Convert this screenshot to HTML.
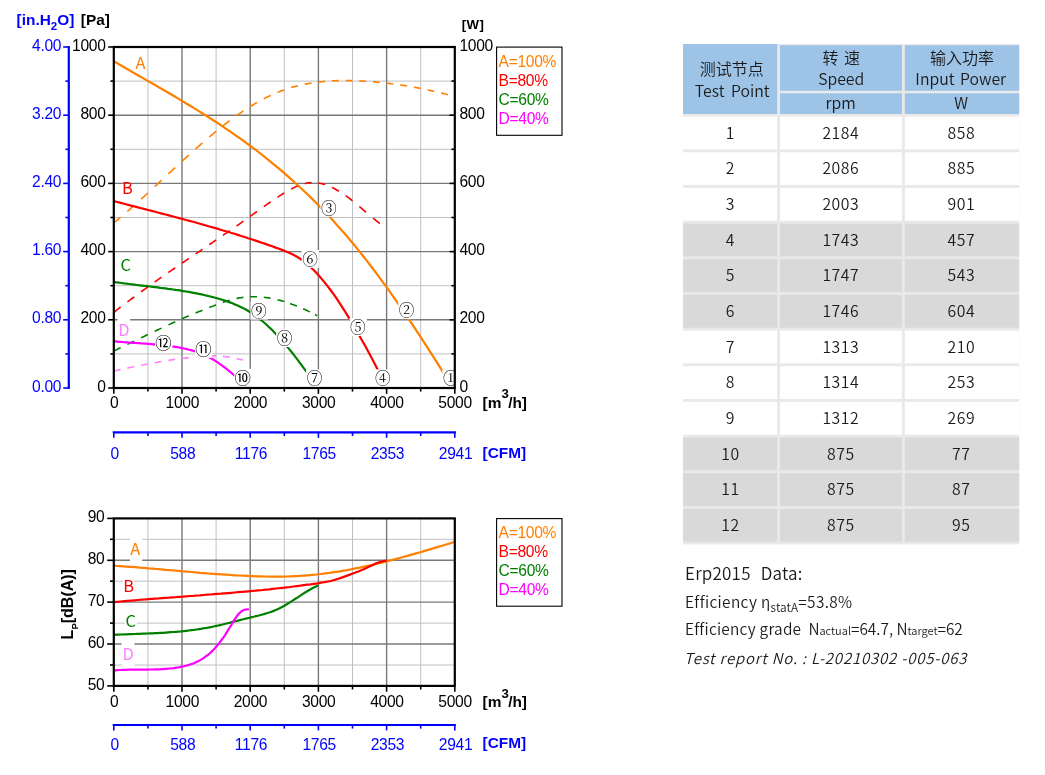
<!DOCTYPE html>
<html lang="zh"><head><meta charset="utf-8"><title>Fan curve</title>
<style>
html,body{margin:0;padding:0;background:#fff}
svg{display:block}
text{font-family:"Liberation Sans",sans-serif}
.t{font-size:15.6px;letter-spacing:-0.3px}
.b{font-size:15.4px;font-weight:bold}
.e{text-anchor:end}
.m{text-anchor:middle}
.lt{font-family:"Noto Sans CJK SC","Liberation Sans",sans-serif;font-size:16.4px;font-weight:400}
.cn{font-family:"Liberation Serif","Noto Serif CJK SC",serif;font-size:15.7px;text-anchor:middle}
.cs{font-family:"Liberation Sans","Noto Sans CJK SC",sans-serif;font-weight:400;font-size:16.4px;text-anchor:middle}
.c{font-family:"Noto Sans CJK SC","Liberation Sans",sans-serif;font-size:15.8px;font-weight:350;letter-spacing:0.5px;fill:#1a1a1a}
.h{letter-spacing:0}
</style></head><body>
<svg width="1045" height="775" viewBox="0 0 1045 775">
<rect width="1045" height="775" fill="#fff"/>
<line x1="147.9" x2="147.9" y1="47.0" y2="388.0" stroke="#C0C0C0" stroke-width="1"/>
<line x1="216.1" x2="216.1" y1="47.0" y2="388.0" stroke="#C0C0C0" stroke-width="1"/>
<line x1="284.3" x2="284.3" y1="47.0" y2="388.0" stroke="#C0C0C0" stroke-width="1"/>
<line x1="352.5" x2="352.5" y1="47.0" y2="388.0" stroke="#C0C0C0" stroke-width="1"/>
<line x1="420.7" x2="420.7" y1="47.0" y2="388.0" stroke="#C0C0C0" stroke-width="1"/>
<line x1="113.8" x2="454.8" y1="353.9" y2="353.9" stroke="#C0C0C0" stroke-width="1"/>
<line x1="113.8" x2="454.8" y1="285.7" y2="285.7" stroke="#C0C0C0" stroke-width="1"/>
<line x1="113.8" x2="454.8" y1="217.5" y2="217.5" stroke="#C0C0C0" stroke-width="1"/>
<line x1="113.8" x2="454.8" y1="149.3" y2="149.3" stroke="#C0C0C0" stroke-width="1"/>
<line x1="113.8" x2="454.8" y1="81.1" y2="81.1" stroke="#C0C0C0" stroke-width="1"/>
<line x1="182.0" x2="182.0" y1="47.0" y2="388.0" stroke="#787878" stroke-width="1.4"/>
<line x1="250.2" x2="250.2" y1="47.0" y2="388.0" stroke="#787878" stroke-width="1.4"/>
<line x1="318.4" x2="318.4" y1="47.0" y2="388.0" stroke="#787878" stroke-width="1.4"/>
<line x1="386.6" x2="386.6" y1="47.0" y2="388.0" stroke="#787878" stroke-width="1.4"/>
<line x1="113.8" x2="454.8" y1="319.8" y2="319.8" stroke="#787878" stroke-width="1.4"/>
<line x1="113.8" x2="454.8" y1="251.6" y2="251.6" stroke="#787878" stroke-width="1.4"/>
<line x1="113.8" x2="454.8" y1="183.4" y2="183.4" stroke="#787878" stroke-width="1.4"/>
<line x1="113.8" x2="454.8" y1="115.2" y2="115.2" stroke="#787878" stroke-width="1.4"/>
<rect x="133.0" y="55.0" width="13.4" height="16.0" fill="#fff"/>
<rect x="121.0" y="184.6" width="13.0" height="11.0" fill="#fff"/>
<rect x="119.0" y="259.0" width="13.0" height="14.0" fill="#fff"/>
<rect x="117.6" y="317.0" width="12.6" height="20.0" fill="#fff"/>
<path d="M113.8 223.0 L115.5 221.5 L117.2 220.1 L118.9 218.7 L120.6 217.2 M127.4 211.4 L129.1 209.9 L130.8 208.4 L132.6 206.9 L134.3 205.3 M141.1 199.2 L142.8 197.6 L144.5 196.1 L146.2 194.5 L147.9 192.9 M154.7 186.6 L156.4 185.1 L158.1 183.5 L159.8 181.9 L161.5 180.3 M168.4 173.9 L170.1 172.3 L171.8 170.8 L173.5 169.2 L175.2 167.6 M182.0 161.3 L183.7 159.7 L185.4 158.2 L187.1 156.6 L188.8 155.0 M195.6 148.9 L197.3 147.4 L199.1 145.9 L200.8 144.4 L202.5 142.9 M209.3 137.0 L211.0 135.6 L212.7 134.2 L214.4 132.7 L216.1 131.3 M222.9 125.9 L224.6 124.5 L226.3 123.2 L228.0 121.9 L229.7 120.6 M236.6 115.6 L238.3 114.4 L240.0 113.2 L241.7 112.1 L243.4 110.9 M250.2 106.5 L251.9 105.5 L253.6 104.5 L255.3 103.4 L257.0 102.5 M263.8 98.8 L265.5 97.9 L267.2 97.0 L269.0 96.2 L270.7 95.4 M277.5 92.4 L279.2 91.8 L280.9 91.1 L282.6 90.5 L284.3 89.8 M291.1 87.6 L292.8 87.1 L294.5 86.6 L296.2 86.2 L297.9 85.8 M304.8 84.2 L306.5 83.9 L308.2 83.6 L309.9 83.3 L311.6 83.0 M318.4 82.0 L320.1 81.9 L321.8 81.7 L323.5 81.5 L325.2 81.3 M332.0 80.9 L333.7 80.8 L335.4 80.7 L337.2 80.6 L338.9 80.6 M345.7 80.5 L347.4 80.5 L349.1 80.6 L350.8 80.6 L352.5 80.6 M359.3 80.9 L361.0 81.0 L362.7 81.1 L364.4 81.2 L366.1 81.3 M373.0 81.8 L374.7 81.9 L376.4 82.1 L378.1 82.3 L379.8 82.4 M386.6 83.2 L388.3 83.3 L390.0 83.6 L391.7 83.8 L393.4 84.0 M400.2 84.9 L401.9 85.2 L403.7 85.4 L405.4 85.7 L407.1 86.0 M413.9 87.2 L415.6 87.5 L417.3 87.8 L419.0 88.1 L420.7 88.4 M427.5 89.8 L429.2 90.2 L430.9 90.6 L432.6 91.0 L434.3 91.4 M441.2 93.0 L442.9 93.4 L444.6 93.8 L446.3 94.3 L448.0 94.7" fill="none" stroke="#FF8000" stroke-width="1.6"/>
<path d="M113.8 312.3 L115.5 311.0 L117.2 309.6 L118.9 308.3 L120.6 307.0 M127.4 301.8 L129.1 300.6 L130.8 299.3 L132.6 298.0 L134.3 296.8 M141.1 291.8 L142.8 290.5 L144.5 289.3 L146.2 288.1 L147.9 286.9 M154.7 282.0 L156.4 280.8 L158.1 279.6 L159.8 278.4 L161.5 277.2 M168.4 272.5 L170.1 271.3 L171.8 270.2 L173.5 269.0 L175.2 267.8 M182.0 263.2 L183.7 262.0 L185.4 260.8 L187.1 259.7 L188.8 258.5 M195.6 253.9 L197.3 252.8 L199.1 251.6 L200.8 250.5 L202.5 249.3 M209.3 244.7 L211.0 243.5 L212.7 242.4 L214.4 241.2 L216.1 240.0 M222.9 235.4 L224.6 234.2 L226.3 233.1 L228.0 231.9 L229.7 230.7 M236.6 226.0 L238.3 224.8 L240.0 223.6 L241.7 222.4 L243.4 221.2 M250.2 216.4 L251.9 215.1 L253.6 213.9 L255.3 212.7 L257.0 211.5 M263.8 206.6 L265.5 205.4 L267.2 204.2 L269.0 203.0 L270.7 201.8 M277.5 197.3 L279.2 196.2 L280.9 195.1 L282.6 194.0 L284.3 193.0 M291.1 189.1 L292.8 188.2 L294.5 187.4 L296.2 186.6 L297.9 185.9 M304.8 183.6 L306.5 183.2 L308.2 182.9 L309.9 182.7 L311.6 182.6 M318.4 183.0 L320.1 183.3 L321.8 183.7 L323.5 184.1 L325.2 184.6 M332.0 187.4 L333.7 188.3 L335.4 189.2 L337.2 190.2 L338.9 191.2 M345.7 195.7 L347.4 196.9 L349.1 198.2 L350.8 199.5 L352.5 200.9 M359.3 206.5 L361.0 207.9 L362.7 209.4 L364.4 210.8 L366.1 212.3 M373.0 218.0 L374.7 219.4 L376.4 220.8 L378.1 222.2 L379.8 223.5" fill="none" stroke="#FF0000" stroke-width="1.6"/>
<path d="M113.8 351.0 L115.5 350.2 L117.2 349.4 L118.9 348.5 L120.6 347.7 M127.4 344.4 L129.1 343.6 L130.8 342.8 L132.6 341.9 L134.3 341.1 M141.1 337.8 L142.8 337.0 L144.5 336.2 L146.2 335.3 L147.9 334.5 M154.7 331.3 L156.4 330.5 L158.1 329.7 L159.8 328.9 L161.5 328.1 M168.4 324.9 L170.1 324.1 L171.8 323.3 L173.5 322.6 L175.2 321.8 M182.0 318.8 L183.7 318.0 L185.4 317.3 L187.1 316.6 L188.8 315.8 M195.6 313.0 L197.3 312.3 L199.1 311.6 L200.8 310.9 L202.5 310.2 M209.3 307.5 L211.0 306.8 L212.7 306.2 L214.4 305.5 L216.1 304.9 M222.9 302.4 L224.6 301.8 L226.3 301.2 L228.0 300.7 L229.7 300.2 M236.6 298.4 L238.3 298.1 L240.0 297.8 L241.7 297.6 L243.4 297.3 M250.2 296.8 L251.9 296.7 L253.6 296.7 L255.3 296.7 L257.0 296.8 M263.8 297.3 L265.5 297.5 L267.2 297.7 L269.0 298.0 L270.7 298.3 M277.5 299.8 L279.2 300.2 L280.9 300.6 L282.6 301.1 L284.3 301.6 M290.1 303.5 L291.8 304.2 L293.5 304.8 L295.2 305.4 L296.9 306.1 M303.1 308.7 L304.8 309.5 L306.5 310.3 L308.2 311.1 L309.9 311.9 M315.0 314.5 L315.6 314.8 L316.1 315.1 L316.7 315.4 L317.2 315.7" fill="none" stroke="#008000" stroke-width="1.6"/>
<path d="M113.8 371.1 L115.5 370.7 L117.2 370.3 L118.9 369.9 L120.6 369.5 M127.4 368.1 L129.1 367.7 L130.8 367.3 L132.6 367.0 L134.3 366.6 M141.1 365.3 L142.8 365.0 L144.5 364.7 L146.2 364.3 L147.9 364.0 M154.7 362.8 L156.4 362.5 L158.1 362.1 L159.8 361.8 L161.5 361.5 M168.4 360.4 L170.1 360.1 L171.8 359.8 L173.5 359.6 L175.2 359.3 M182.0 358.5 L183.7 358.3 L185.4 358.1 L187.1 357.9 L188.8 357.7 M195.6 357.0 L197.3 356.8 L199.1 356.7 L200.8 356.5 L202.5 356.4 M209.3 356.0 L211.0 355.9 L212.7 355.9 L214.4 355.8 L216.1 355.9 M222.9 356.3 L224.6 356.5 L226.3 356.7 L228.0 356.9 L229.7 357.2 M236.6 358.5 L238.1 358.9 L239.7 359.3 L241.3 359.6 L242.9 360.0" fill="none" stroke="#FF80FF" stroke-width="1.6"/>
<path d="M113.8 61.3 L118.1 63.8 L122.4 66.3 L126.7 68.8 L131.0 71.2 L135.3 73.7 L139.5 76.2 L143.8 78.6 L148.1 81.1 L152.4 83.5 L156.7 86.0 L161.0 88.5 L165.3 91.0 L169.6 93.5 L173.9 96.0 L178.2 98.6 L182.4 101.1 L186.7 103.7 L191.0 106.3 L195.3 108.9 L199.6 111.6 L203.9 114.3 L208.2 117.0 L212.5 119.7 L216.8 122.5 L221.1 125.4 L225.4 128.3 L229.6 131.2 L233.9 134.1 L238.2 137.2 L242.5 140.2 L246.8 143.3 L251.1 146.5 L255.4 149.7 L259.7 153.0 L264.0 156.4 L268.3 159.8 L272.6 163.3 L276.8 166.8 L281.1 170.4 L285.4 174.1 L289.7 177.9 L294.0 181.7 L298.3 185.7 L302.6 189.7 L306.9 193.7 L311.2 197.9 L315.5 202.2 L319.7 206.5 L324.0 211.0 L328.3 215.5 L332.6 220.1 L336.9 224.9 L341.2 229.7 L345.5 234.6 L349.8 239.7 L354.1 244.8 L358.4 250.1 L362.7 255.5 L366.9 260.9 L371.2 266.5 L375.5 272.2 L379.8 277.9 L384.1 283.8 L388.4 289.7 L392.7 295.8 L397.0 301.9 L401.3 308.1 L405.6 314.4 L409.8 320.7 L414.1 327.1 L418.4 333.7 L422.7 340.2 L427.0 346.9 L431.3 353.6 L435.6 360.4 L439.9 367.2 L444.2 374.1 L448.5 381.0 L452.8 388.0" fill="none" stroke="#FF8000" stroke-width="2.2" stroke-linejoin="round"/>
<path d="M113.8 201.1 L117.2 202.0 L120.7 202.9 L124.1 203.8 L127.6 204.7 L131.0 205.6 L134.5 206.5 L137.9 207.4 L141.4 208.3 L144.8 209.1 L148.2 210.0 L151.7 210.9 L155.1 211.8 L158.6 212.7 L162.0 213.6 L165.5 214.5 L168.9 215.4 L172.4 216.3 L175.8 217.2 L179.2 218.1 L182.7 219.0 L186.1 220.0 L189.6 220.9 L193.0 221.8 L196.5 222.8 L199.9 223.7 L203.4 224.7 L206.8 225.7 L210.2 226.7 L213.7 227.6 L217.1 228.6 L220.6 229.7 L224.0 230.7 L227.5 231.7 L230.9 232.8 L234.4 233.8 L237.8 234.9 L241.2 236.0 L244.7 237.0 L248.1 238.2 L251.6 239.3 L255.0 240.4 L258.5 241.6 L261.9 242.7 L265.4 243.9 L268.8 245.1 L272.2 246.3 L275.7 247.6 L279.1 248.8 L282.6 250.1 L286.0 251.5 L289.5 252.9 L292.9 254.6 L296.4 256.4 L299.8 258.5 L303.2 260.9 L306.7 263.7 L310.1 266.7 L313.6 270.0 L317.0 273.6 L320.5 277.5 L323.9 281.6 L327.4 285.9 L330.8 290.5 L334.3 295.2 L337.7 300.2 L341.1 305.4 L344.6 310.8 L348.0 316.4 L351.5 322.1 L354.9 328.0 L358.4 334.0 L361.8 340.0 L365.3 346.1 L368.7 352.4 L372.1 358.8 L375.6 365.5 L379.0 372.5 L382.5 380.0 L385.9 388.0" fill="none" stroke="#FF0000" stroke-width="2.2" stroke-linejoin="round"/>
<path d="M113.8 282.0 L116.4 282.3 L119.0 282.7 L121.5 283.0 L124.1 283.4 L126.7 283.7 L129.3 284.0 L131.9 284.3 L134.4 284.7 L137.0 285.0 L139.6 285.3 L142.2 285.6 L144.8 285.9 L147.3 286.2 L149.9 286.5 L152.5 286.8 L155.1 287.1 L157.7 287.4 L160.2 287.8 L162.8 288.1 L165.4 288.4 L168.0 288.8 L170.5 289.1 L173.1 289.5 L175.7 289.9 L178.3 290.2 L180.9 290.6 L183.4 291.1 L186.0 291.5 L188.6 291.9 L191.2 292.4 L193.8 292.9 L196.3 293.4 L198.9 293.9 L201.5 294.4 L204.1 295.0 L206.7 295.6 L209.2 296.2 L211.8 296.9 L214.4 297.5 L217.0 298.2 L219.6 299.0 L222.1 299.8 L224.7 300.6 L227.3 301.5 L229.9 302.4 L232.5 303.3 L235.0 304.4 L237.6 305.5 L240.2 306.7 L242.8 307.9 L245.4 309.3 L247.9 310.7 L250.5 312.3 L253.1 314.0 L255.7 315.9 L258.3 317.8 L260.8 319.8 L263.4 322.0 L266.0 324.3 L268.6 326.7 L271.2 329.1 L273.7 331.7 L276.3 334.4 L278.9 337.2 L281.5 340.0 L284.0 343.0 L286.6 346.0 L289.2 349.1 L291.8 352.3 L294.4 355.6 L296.9 358.9 L299.5 362.3 L302.1 365.8 L304.7 369.3 L307.3 372.9 L309.8 376.6 L312.4 380.3 L315.0 384.1 L317.6 388.0" fill="none" stroke="#008000" stroke-width="2.2" stroke-linejoin="round"/>
<path d="M113.8 341.3 L115.5 341.4 L117.2 341.6 L118.9 341.8 L120.7 341.9 L122.4 342.0 L124.1 342.2 L125.8 342.3 L127.5 342.4 L129.2 342.6 L130.9 342.7 L132.6 342.8 L134.4 342.9 L136.1 343.0 L137.8 343.1 L139.5 343.2 L141.2 343.4 L142.9 343.5 L144.6 343.6 L146.4 343.7 L148.1 343.8 L149.8 344.0 L151.5 344.1 L153.2 344.3 L154.9 344.4 L156.6 344.6 L158.4 344.7 L160.1 344.9 L161.8 345.1 L163.5 345.3 L165.2 345.5 L166.9 345.7 L168.6 345.9 L170.3 346.1 L172.1 346.4 L173.8 346.6 L175.5 346.9 L177.2 347.2 L178.9 347.5 L180.6 347.8 L182.3 348.1 L184.1 348.5 L185.8 348.9 L187.5 349.3 L189.2 349.7 L190.9 350.1 L192.6 350.6 L194.3 351.1 L196.1 351.7 L197.8 352.2 L199.5 352.9 L201.2 353.5 L202.9 354.2 L204.6 355.0 L206.3 355.8 L208.0 356.6 L209.8 357.6 L211.5 358.5 L213.2 359.5 L214.9 360.6 L216.6 361.7 L218.3 362.9 L220.0 364.1 L221.8 365.3 L223.5 366.6 L225.2 367.9 L226.9 369.2 L228.6 370.6 L230.3 372.0 L232.0 373.4 L233.8 374.8 L235.5 376.2 L237.2 377.7 L238.9 379.2 L240.6 380.6 L242.3 382.1 L244.0 383.6 L245.7 385.1 L247.5 386.5 L249.2 388.0" fill="none" stroke="#FF00FF" stroke-width="2.2" stroke-linejoin="round"/>
<text x="135.5" y="68.6" fill="#FF8000" class="lt">A</text>
<text x="122.0" y="193.8" fill="#FF0000" class="lt">B</text>
<text x="120.6" y="271.0" fill="#008000" class="lt">C</text>
<text x="118.3" y="336.2" fill="#FF80FF" class="lt">D</text>
<clipPath id="cu"><rect x="113.8" y="47.0" width="341.0" height="341.0"/></clipPath>
<g clip-path="url(#cu)">
<rect x="442.4" y="369.4" width="17.3" height="18" fill="#fff"/>
<text x="450.8" y="384.4" class="cn">①</text>
<rect x="398.3" y="301.1" width="17.3" height="18" fill="#fff"/>
<text x="406.7" y="316.1" class="cn">②</text>
<rect x="320.4" y="198.9" width="17.3" height="18" fill="#fff"/>
<text x="328.8" y="213.9" class="cn">③</text>
<rect x="374.4" y="369.4" width="17.3" height="18" fill="#fff"/>
<text x="382.8" y="384.4" class="cn">④</text>
<rect x="349.5" y="318.0" width="17.3" height="18" fill="#fff"/>
<text x="357.9" y="333.0" class="cn">⑤</text>
<rect x="301.6" y="249.9" width="17.3" height="18" fill="#fff"/>
<text x="310.0" y="264.9" class="cn">⑥</text>
<rect x="306.1" y="369.4" width="17.3" height="18" fill="#fff"/>
<text x="314.5" y="384.4" class="cn">⑦</text>
<rect x="276.2" y="329.0" width="17.3" height="18" fill="#fff"/>
<text x="284.6" y="344.0" class="cn">⑧</text>
<rect x="250.5" y="301.6" width="17.3" height="18" fill="#fff"/>
<text x="258.9" y="316.6" class="cn">⑨</text>
<rect x="234.2" y="368.9" width="17.3" height="18" fill="#fff"/>
<text x="242.6" y="384.0" class="cs">⑩</text>
<rect x="195.0" y="339.8" width="17.3" height="18" fill="#fff"/>
<text x="203.4" y="354.9" class="cs">⑪</text>
<rect x="155.0" y="334.2" width="17.3" height="18" fill="#fff"/>
<text x="163.4" y="349.3" class="cs">⑫</text>
</g>
<rect x="113.8" y="47.0" width="341.0" height="341.0" fill="none" stroke="#000" stroke-width="2.2"/>
<line x1="108.2" x2="113.8" y1="388.0" y2="388.0" stroke="#000" stroke-width="1.6"/>
<line x1="449.6" x2="454.8" y1="388.0" y2="388.0" stroke="#000" stroke-width="1.6"/>
<line x1="63.2" x2="68.8" y1="388.0" y2="388.0" stroke="#0000FF" stroke-width="1.6"/>
<line x1="110.4" x2="113.8" y1="353.9" y2="353.9" stroke="#000" stroke-width="1.6"/>
<line x1="451.4" x2="454.8" y1="353.9" y2="353.9" stroke="#000" stroke-width="1.6"/>
<line x1="65.4" x2="68.8" y1="353.9" y2="353.9" stroke="#0000FF" stroke-width="1.6"/>
<line x1="108.2" x2="113.8" y1="319.8" y2="319.8" stroke="#000" stroke-width="1.6"/>
<line x1="449.6" x2="454.8" y1="319.8" y2="319.8" stroke="#000" stroke-width="1.6"/>
<line x1="63.2" x2="68.8" y1="319.8" y2="319.8" stroke="#0000FF" stroke-width="1.6"/>
<line x1="110.4" x2="113.8" y1="285.7" y2="285.7" stroke="#000" stroke-width="1.6"/>
<line x1="451.4" x2="454.8" y1="285.7" y2="285.7" stroke="#000" stroke-width="1.6"/>
<line x1="65.4" x2="68.8" y1="285.7" y2="285.7" stroke="#0000FF" stroke-width="1.6"/>
<line x1="108.2" x2="113.8" y1="251.6" y2="251.6" stroke="#000" stroke-width="1.6"/>
<line x1="449.6" x2="454.8" y1="251.6" y2="251.6" stroke="#000" stroke-width="1.6"/>
<line x1="63.2" x2="68.8" y1="251.6" y2="251.6" stroke="#0000FF" stroke-width="1.6"/>
<line x1="110.4" x2="113.8" y1="217.5" y2="217.5" stroke="#000" stroke-width="1.6"/>
<line x1="451.4" x2="454.8" y1="217.5" y2="217.5" stroke="#000" stroke-width="1.6"/>
<line x1="65.4" x2="68.8" y1="217.5" y2="217.5" stroke="#0000FF" stroke-width="1.6"/>
<line x1="108.2" x2="113.8" y1="183.4" y2="183.4" stroke="#000" stroke-width="1.6"/>
<line x1="449.6" x2="454.8" y1="183.4" y2="183.4" stroke="#000" stroke-width="1.6"/>
<line x1="63.2" x2="68.8" y1="183.4" y2="183.4" stroke="#0000FF" stroke-width="1.6"/>
<line x1="110.4" x2="113.8" y1="149.3" y2="149.3" stroke="#000" stroke-width="1.6"/>
<line x1="451.4" x2="454.8" y1="149.3" y2="149.3" stroke="#000" stroke-width="1.6"/>
<line x1="65.4" x2="68.8" y1="149.3" y2="149.3" stroke="#0000FF" stroke-width="1.6"/>
<line x1="108.2" x2="113.8" y1="115.2" y2="115.2" stroke="#000" stroke-width="1.6"/>
<line x1="449.6" x2="454.8" y1="115.2" y2="115.2" stroke="#000" stroke-width="1.6"/>
<line x1="63.2" x2="68.8" y1="115.2" y2="115.2" stroke="#0000FF" stroke-width="1.6"/>
<line x1="110.4" x2="113.8" y1="81.1" y2="81.1" stroke="#000" stroke-width="1.6"/>
<line x1="451.4" x2="454.8" y1="81.1" y2="81.1" stroke="#000" stroke-width="1.6"/>
<line x1="65.4" x2="68.8" y1="81.1" y2="81.1" stroke="#0000FF" stroke-width="1.6"/>
<line x1="108.2" x2="113.8" y1="47.0" y2="47.0" stroke="#000" stroke-width="1.6"/>
<line x1="449.6" x2="454.8" y1="47.0" y2="47.0" stroke="#000" stroke-width="1.6"/>
<line x1="63.2" x2="68.8" y1="47.0" y2="47.0" stroke="#0000FF" stroke-width="1.6"/>
<line x1="68.8" x2="68.8" y1="45.9" y2="389.1" stroke="#0000FF" stroke-width="2.2"/>
<line x1="113.8" x2="113.8" y1="388.0" y2="393.8" stroke="#000" stroke-width="1.6"/>
<line x1="147.9" x2="147.9" y1="388.0" y2="391.6" stroke="#000" stroke-width="1.6"/>
<line x1="182.0" x2="182.0" y1="388.0" y2="393.8" stroke="#000" stroke-width="1.6"/>
<line x1="216.1" x2="216.1" y1="388.0" y2="391.6" stroke="#000" stroke-width="1.6"/>
<line x1="250.2" x2="250.2" y1="388.0" y2="393.8" stroke="#000" stroke-width="1.6"/>
<line x1="284.3" x2="284.3" y1="388.0" y2="391.6" stroke="#000" stroke-width="1.6"/>
<line x1="318.4" x2="318.4" y1="388.0" y2="393.8" stroke="#000" stroke-width="1.6"/>
<line x1="352.5" x2="352.5" y1="388.0" y2="391.6" stroke="#000" stroke-width="1.6"/>
<line x1="386.6" x2="386.6" y1="388.0" y2="393.8" stroke="#000" stroke-width="1.6"/>
<line x1="420.7" x2="420.7" y1="388.0" y2="391.6" stroke="#000" stroke-width="1.6"/>
<line x1="454.8" x2="454.8" y1="388.0" y2="393.8" stroke="#000" stroke-width="1.6"/>
<line x1="112.7" x2="455.9" y1="432.4" y2="432.4" stroke="#0000FF" stroke-width="2.2"/>
<line x1="113.8" x2="113.8" y1="432.4" y2="437.8" stroke="#0000FF" stroke-width="1.6"/>
<line x1="147.9" x2="147.9" y1="432.4" y2="436.0" stroke="#0000FF" stroke-width="1.6"/>
<line x1="182.0" x2="182.0" y1="432.4" y2="437.8" stroke="#0000FF" stroke-width="1.6"/>
<line x1="216.1" x2="216.1" y1="432.4" y2="436.0" stroke="#0000FF" stroke-width="1.6"/>
<line x1="250.2" x2="250.2" y1="432.4" y2="437.8" stroke="#0000FF" stroke-width="1.6"/>
<line x1="284.3" x2="284.3" y1="432.4" y2="436.0" stroke="#0000FF" stroke-width="1.6"/>
<line x1="318.4" x2="318.4" y1="432.4" y2="437.8" stroke="#0000FF" stroke-width="1.6"/>
<line x1="352.5" x2="352.5" y1="432.4" y2="436.0" stroke="#0000FF" stroke-width="1.6"/>
<line x1="386.6" x2="386.6" y1="432.4" y2="437.8" stroke="#0000FF" stroke-width="1.6"/>
<line x1="420.7" x2="420.7" y1="432.4" y2="436.0" stroke="#0000FF" stroke-width="1.6"/>
<line x1="454.8" x2="454.8" y1="432.4" y2="437.8" stroke="#0000FF" stroke-width="1.6"/>
<text x="105.6" y="391.5" class="t e">0</text>
<text x="459.4" y="391.5" class="t">0</text>
<text x="61.2" y="391.5" class="t e" fill="#0000FF">0.00</text>
<text x="105.6" y="323.3" class="t e">200</text>
<text x="459.4" y="323.3" class="t">200</text>
<text x="61.2" y="323.3" class="t e" fill="#0000FF">0.80</text>
<text x="105.6" y="255.1" class="t e">400</text>
<text x="459.4" y="255.1" class="t">400</text>
<text x="61.2" y="255.1" class="t e" fill="#0000FF">1.60</text>
<text x="105.6" y="186.9" class="t e">600</text>
<text x="459.4" y="186.9" class="t">600</text>
<text x="61.2" y="186.9" class="t e" fill="#0000FF">2.40</text>
<text x="105.6" y="118.7" class="t e">800</text>
<text x="459.4" y="118.7" class="t">800</text>
<text x="61.2" y="118.7" class="t e" fill="#0000FF">3.20</text>
<text x="105.6" y="50.5" class="t e">1000</text>
<text x="459.4" y="50.5" class="t">1000</text>
<text x="61.2" y="50.5" class="t e" fill="#0000FF">4.00</text>
<text x="114.1" y="407.6" class="t m">0</text>
<text x="114.6" y="459.2" class="t m" fill="#0000FF">0</text>
<text x="114.1" y="707.2" class="t m">0</text>
<text x="114.6" y="749.6" class="t m" fill="#0000FF">0</text>
<text x="182.3" y="407.6" class="t m">1000</text>
<text x="182.8" y="459.2" class="t m" fill="#0000FF">588</text>
<text x="182.3" y="707.2" class="t m">1000</text>
<text x="182.8" y="749.6" class="t m" fill="#0000FF">588</text>
<text x="250.5" y="407.6" class="t m">2000</text>
<text x="251.0" y="459.2" class="t m" fill="#0000FF">1176</text>
<text x="250.5" y="707.2" class="t m">2000</text>
<text x="251.0" y="749.6" class="t m" fill="#0000FF">1176</text>
<text x="318.7" y="407.6" class="t m">3000</text>
<text x="319.2" y="459.2" class="t m" fill="#0000FF">1765</text>
<text x="318.7" y="707.2" class="t m">3000</text>
<text x="319.2" y="749.6" class="t m" fill="#0000FF">1765</text>
<text x="386.9" y="407.6" class="t m">4000</text>
<text x="387.4" y="459.2" class="t m" fill="#0000FF">2353</text>
<text x="386.9" y="707.2" class="t m">4000</text>
<text x="387.4" y="749.6" class="t m" fill="#0000FF">2353</text>
<text x="455.1" y="407.6" class="t m">5000</text>
<text x="455.6" y="459.2" class="t m" fill="#0000FF">2941</text>
<text x="455.1" y="707.2" class="t m">5000</text>
<text x="455.6" y="749.6" class="t m" fill="#0000FF">2941</text>
<text x="16.6" y="24.8" class="b" fill="#0000FF">[in.H<tspan dy="5.4" style="font-size:11.5px">2</tspan><tspan dy="-5.4">O]</tspan></text>
<text x="80.8" y="24.8" class="b">[Pa]</text>
<text x="461.8" y="28.8" class="b" style="font-size:13.2px;letter-spacing:0.4px">[W]</text>
<text x="482.6" y="407.6" class="b">[m<tspan dy="-9.4" style="font-size:13.2px">3</tspan><tspan dy="9.4" dx="-0.6">/h]</tspan></text>
<text x="482.6" y="457.6" class="b" fill="#0000FF">[CFM]</text>
<text x="482.6" y="707.2" class="b">[m<tspan dy="-9.4" style="font-size:13.2px">3</tspan><tspan dy="9.4" dx="-0.6">/h]</tspan></text>
<text x="482.6" y="748.4" class="b" fill="#0000FF">[CFM]</text>
<rect x="496.6" y="47.1" width="65.4" height="88.2" fill="#fff" stroke="#000" stroke-width="1.1"/>
<text x="498.6" y="66.7" class="t" fill="#FF8000">A=100%</text>
<text x="498.6" y="85.7" class="t" fill="#FF0000">B=80%</text>
<text x="498.6" y="104.7" class="t" fill="#008000">C=60%</text>
<text x="498.6" y="123.7" class="t" fill="#FF00FF">D=40%</text>
<rect x="496.6" y="518.6" width="65.4" height="87.6" fill="#fff" stroke="#000" stroke-width="1.1"/>
<text x="498.6" y="537.5" class="t" fill="#FF8000">A=100%</text>
<text x="498.6" y="556.5" class="t" fill="#FF0000">B=80%</text>
<text x="498.6" y="575.5" class="t" fill="#008000">C=60%</text>
<text x="498.6" y="594.5" class="t" fill="#FF00FF">D=40%</text>
<line x1="147.9" x2="147.9" y1="518.4" y2="685.9" stroke="#C0C0C0" stroke-width="1"/>
<line x1="216.1" x2="216.1" y1="518.4" y2="685.9" stroke="#C0C0C0" stroke-width="1"/>
<line x1="284.3" x2="284.3" y1="518.4" y2="685.9" stroke="#C0C0C0" stroke-width="1"/>
<line x1="352.5" x2="352.5" y1="518.4" y2="685.9" stroke="#C0C0C0" stroke-width="1"/>
<line x1="420.7" x2="420.7" y1="518.4" y2="685.9" stroke="#C0C0C0" stroke-width="1"/>
<line x1="113.8" x2="454.8" y1="665.0" y2="665.0" stroke="#C0C0C0" stroke-width="1"/>
<line x1="113.8" x2="454.8" y1="623.1" y2="623.1" stroke="#C0C0C0" stroke-width="1"/>
<line x1="113.8" x2="454.8" y1="581.2" y2="581.2" stroke="#C0C0C0" stroke-width="1"/>
<line x1="113.8" x2="454.8" y1="539.3" y2="539.3" stroke="#C0C0C0" stroke-width="1"/>
<line x1="182.0" x2="182.0" y1="518.4" y2="685.9" stroke="#787878" stroke-width="1.4"/>
<line x1="250.2" x2="250.2" y1="518.4" y2="685.9" stroke="#787878" stroke-width="1.4"/>
<line x1="318.4" x2="318.4" y1="518.4" y2="685.9" stroke="#787878" stroke-width="1.4"/>
<line x1="386.6" x2="386.6" y1="518.4" y2="685.9" stroke="#787878" stroke-width="1.4"/>
<line x1="113.8" x2="454.8" y1="644.0" y2="644.0" stroke="#787878" stroke-width="1.4"/>
<line x1="113.8" x2="454.8" y1="602.1" y2="602.1" stroke="#787878" stroke-width="1.4"/>
<line x1="113.8" x2="454.8" y1="560.3" y2="560.3" stroke="#787878" stroke-width="1.4"/>
<rect x="130.0" y="538.0" width="12.2" height="23.6" fill="#fff"/>
<rect x="123.0" y="578.0" width="10.6" height="15.0" fill="#fff"/>
<rect x="125.0" y="612.0" width="12.0" height="16.4" fill="#fff"/>
<rect x="121.5" y="643.0" width="13.0" height="23.0" fill="#fff"/>
<path d="M113.8 565.7 L118.1 566.0 L122.4 566.3 L126.7 566.6 L131.1 566.9 L135.4 567.2 L139.7 567.6 L144.0 567.9 L148.3 568.3 L152.6 568.6 L157.0 569.0 L161.3 569.4 L165.6 569.8 L169.9 570.1 L174.2 570.5 L178.5 570.9 L182.9 571.3 L187.2 571.7 L191.5 572.0 L195.8 572.4 L200.1 572.8 L204.4 573.1 L208.8 573.5 L213.1 573.8 L217.4 574.1 L221.7 574.4 L226.0 574.7 L230.3 575.0 L234.7 575.3 L239.0 575.5 L243.3 575.7 L247.6 575.9 L251.9 576.1 L256.2 576.3 L260.6 576.4 L264.9 576.5 L269.2 576.6 L273.5 576.6 L277.8 576.6 L282.1 576.6 L286.5 576.5 L290.8 576.3 L295.1 576.1 L299.4 575.9 L303.7 575.6 L308.0 575.3 L312.4 574.9 L316.7 574.5 L321.0 574.0 L325.3 573.4 L329.6 572.9 L333.9 572.2 L338.3 571.6 L342.6 570.8 L346.9 570.1 L351.2 569.3 L355.5 568.4 L359.8 567.6 L364.2 566.6 L368.5 565.7 L372.8 564.7 L377.1 563.7 L381.4 562.7 L385.7 561.6 L390.1 560.5 L394.4 559.4 L398.7 558.2 L403.0 557.0 L407.3 555.9 L411.6 554.6 L416.0 553.4 L420.3 552.2 L424.6 550.9 L428.9 549.6 L433.2 548.4 L437.5 547.1 L441.9 545.8 L446.2 544.5 L450.5 543.2 L454.8 541.8" fill="none" stroke="#FF8000" stroke-width="2.2" stroke-linejoin="round"/>
<path d="M113.8 602.2 L117.3 601.8 L120.7 601.5 L124.2 601.2 L127.6 600.9 L131.1 600.6 L134.5 600.3 L138.0 600.0 L141.4 599.7 L144.9 599.5 L148.3 599.2 L151.8 598.9 L155.2 598.6 L158.7 598.4 L162.1 598.1 L165.6 597.8 L169.1 597.6 L172.5 597.3 L176.0 597.1 L179.4 596.8 L182.9 596.6 L186.3 596.3 L189.8 596.0 L193.2 595.8 L196.7 595.5 L200.1 595.3 L203.6 595.0 L207.0 594.7 L210.5 594.5 L213.9 594.2 L217.4 593.9 L220.8 593.7 L224.3 593.4 L227.8 593.1 L231.2 592.8 L234.7 592.5 L238.1 592.2 L241.6 591.9 L245.0 591.6 L248.5 591.3 L251.9 591.0 L255.4 590.7 L258.8 590.3 L262.3 590.0 L265.7 589.6 L269.2 589.3 L272.6 588.9 L276.1 588.5 L279.6 588.2 L283.0 587.8 L286.5 587.4 L289.9 587.0 L293.4 586.5 L296.8 586.1 L300.3 585.7 L303.7 585.2 L307.2 584.7 L310.6 584.3 L314.1 583.8 L317.5 583.3 L321.0 582.7 L324.4 582.2 L327.9 581.5 L331.3 580.8 L334.8 579.9 L338.3 578.8 L341.7 577.6 L345.2 576.4 L348.6 575.1 L352.1 573.7 L355.5 572.5 L359.0 571.2 L362.4 569.7 L365.9 568.2 L369.3 566.5 L372.8 564.9 L376.2 563.3 L379.7 562.1 L383.1 561.2 L386.6 560.7" fill="none" stroke="#FF0000" stroke-width="2.2" stroke-linejoin="round"/>
<path d="M113.8 634.8 L116.4 634.7 L119.0 634.6 L121.6 634.5 L124.2 634.4 L126.7 634.3 L129.3 634.2 L131.9 634.1 L134.5 634.0 L137.1 633.9 L139.7 633.8 L142.3 633.7 L144.9 633.6 L147.5 633.5 L150.1 633.4 L152.6 633.3 L155.2 633.2 L157.8 633.1 L160.4 632.9 L163.0 632.8 L165.6 632.6 L168.2 632.4 L170.8 632.2 L173.4 632.0 L176.0 631.8 L178.5 631.6 L181.1 631.4 L183.7 631.1 L186.3 630.8 L188.9 630.5 L191.5 630.2 L194.1 629.9 L196.7 629.5 L199.3 629.1 L201.9 628.7 L204.4 628.2 L207.0 627.8 L209.6 627.3 L212.2 626.8 L214.8 626.2 L217.4 625.7 L220.0 625.1 L222.6 624.5 L225.2 623.8 L227.8 623.2 L230.3 622.6 L232.9 621.9 L235.5 621.3 L238.1 620.6 L240.7 619.9 L243.3 619.3 L245.9 618.6 L248.5 618.0 L251.1 617.4 L253.7 616.8 L256.2 616.1 L258.8 615.5 L261.4 614.8 L264.0 614.1 L266.6 613.3 L269.2 612.5 L271.8 611.6 L274.4 610.6 L277.0 609.5 L279.6 608.3 L282.1 607.0 L284.7 605.5 L287.3 604.0 L289.9 602.4 L292.5 600.7 L295.1 599.0 L297.7 597.3 L300.3 595.6 L302.9 593.9 L305.5 592.3 L308.0 590.7 L310.6 589.2 L313.2 587.8 L315.8 586.5 L318.4 585.4" fill="none" stroke="#008000" stroke-width="2.2" stroke-linejoin="round"/>
<path d="M113.8 670.4 L115.5 670.3 L117.2 670.1 L118.9 670.0 L120.6 670.0 L122.4 669.9 L124.1 669.8 L125.8 669.8 L127.5 669.7 L129.2 669.7 L130.9 669.7 L132.6 669.6 L134.3 669.6 L136.0 669.6 L137.7 669.6 L139.5 669.6 L141.2 669.6 L142.9 669.6 L144.6 669.6 L146.3 669.6 L148.0 669.6 L149.7 669.5 L151.4 669.5 L153.1 669.5 L154.8 669.4 L156.6 669.4 L158.3 669.3 L160.0 669.3 L161.7 669.2 L163.4 669.1 L165.1 668.9 L166.8 668.8 L168.5 668.6 L170.2 668.5 L171.9 668.3 L173.7 668.1 L175.4 667.8 L177.1 667.5 L178.8 667.3 L180.5 666.9 L182.2 666.6 L183.9 666.2 L185.6 665.8 L187.3 665.4 L189.0 664.9 L190.8 664.3 L192.5 663.7 L194.2 663.1 L195.9 662.3 L197.6 661.5 L199.3 660.6 L201.0 659.7 L202.7 658.6 L204.4 657.5 L206.1 656.2 L207.9 654.9 L209.6 653.5 L211.3 651.9 L213.0 650.2 L214.7 648.5 L216.4 646.5 L218.1 644.5 L219.8 642.3 L221.5 640.0 L223.3 637.6 L225.0 635.1 L226.7 632.4 L228.4 629.7 L230.1 627.0 L231.8 624.2 L233.5 621.4 L235.2 618.7 L236.9 616.2 L238.6 614.0 L240.4 612.2 L242.1 610.9 L243.8 610.0 L245.5 609.5 L247.2 609.3 L248.9 609.3" fill="none" stroke="#FF00FF" stroke-width="2.2" stroke-linejoin="round"/>
<text x="130.2" y="555.4" fill="#FF8000" class="lt">A</text>
<text x="123.2" y="591.6" fill="#FF0000" class="lt">B</text>
<text x="125.6" y="626.5" fill="#008000" class="lt">C</text>
<text x="122.6" y="659.7" fill="#FF80FF" class="lt">D</text>
<rect x="113.8" y="518.4" width="341.0" height="167.5" fill="none" stroke="#000" stroke-width="2.2"/>
<line x1="107.2" x2="113.8" y1="685.9" y2="685.9" stroke="#000" stroke-width="1.6"/>
<text x="104.4" y="689.6" class="t e">50</text>
<line x1="110.0" x2="113.8" y1="665.0" y2="665.0" stroke="#000" stroke-width="1.6"/>
<line x1="107.2" x2="113.8" y1="644.0" y2="644.0" stroke="#000" stroke-width="1.6"/>
<text x="104.4" y="647.7" class="t e">60</text>
<line x1="110.0" x2="113.8" y1="623.1" y2="623.1" stroke="#000" stroke-width="1.6"/>
<line x1="107.2" x2="113.8" y1="602.1" y2="602.1" stroke="#000" stroke-width="1.6"/>
<text x="104.4" y="605.9" class="t e">70</text>
<line x1="110.0" x2="113.8" y1="581.2" y2="581.2" stroke="#000" stroke-width="1.6"/>
<line x1="107.2" x2="113.8" y1="560.3" y2="560.3" stroke="#000" stroke-width="1.6"/>
<text x="104.4" y="564.0" class="t e">80</text>
<line x1="110.0" x2="113.8" y1="539.3" y2="539.3" stroke="#000" stroke-width="1.6"/>
<line x1="107.2" x2="113.8" y1="518.4" y2="518.4" stroke="#000" stroke-width="1.6"/>
<text x="104.4" y="522.1" class="t e">90</text>
<line x1="113.8" x2="113.8" y1="685.9" y2="691.7" stroke="#000" stroke-width="1.6"/>
<line x1="147.9" x2="147.9" y1="685.9" y2="689.5" stroke="#000" stroke-width="1.6"/>
<line x1="182.0" x2="182.0" y1="685.9" y2="691.7" stroke="#000" stroke-width="1.6"/>
<line x1="216.1" x2="216.1" y1="685.9" y2="689.5" stroke="#000" stroke-width="1.6"/>
<line x1="250.2" x2="250.2" y1="685.9" y2="691.7" stroke="#000" stroke-width="1.6"/>
<line x1="284.3" x2="284.3" y1="685.9" y2="689.5" stroke="#000" stroke-width="1.6"/>
<line x1="318.4" x2="318.4" y1="685.9" y2="691.7" stroke="#000" stroke-width="1.6"/>
<line x1="352.5" x2="352.5" y1="685.9" y2="689.5" stroke="#000" stroke-width="1.6"/>
<line x1="386.6" x2="386.6" y1="685.9" y2="691.7" stroke="#000" stroke-width="1.6"/>
<line x1="420.7" x2="420.7" y1="685.9" y2="689.5" stroke="#000" stroke-width="1.6"/>
<line x1="454.8" x2="454.8" y1="685.9" y2="691.7" stroke="#000" stroke-width="1.6"/>
<line x1="112.7" x2="455.9" y1="725" y2="725" stroke="#0000FF" stroke-width="2.2"/>
<line x1="113.8" x2="113.8" y1="725.0" y2="730.4" stroke="#0000FF" stroke-width="1.6"/>
<line x1="147.9" x2="147.9" y1="725.0" y2="728.6" stroke="#0000FF" stroke-width="1.6"/>
<line x1="182.0" x2="182.0" y1="725.0" y2="730.4" stroke="#0000FF" stroke-width="1.6"/>
<line x1="216.1" x2="216.1" y1="725.0" y2="728.6" stroke="#0000FF" stroke-width="1.6"/>
<line x1="250.2" x2="250.2" y1="725.0" y2="730.4" stroke="#0000FF" stroke-width="1.6"/>
<line x1="284.3" x2="284.3" y1="725.0" y2="728.6" stroke="#0000FF" stroke-width="1.6"/>
<line x1="318.4" x2="318.4" y1="725.0" y2="730.4" stroke="#0000FF" stroke-width="1.6"/>
<line x1="352.5" x2="352.5" y1="725.0" y2="728.6" stroke="#0000FF" stroke-width="1.6"/>
<line x1="386.6" x2="386.6" y1="725.0" y2="730.4" stroke="#0000FF" stroke-width="1.6"/>
<line x1="420.7" x2="420.7" y1="725.0" y2="728.6" stroke="#0000FF" stroke-width="1.6"/>
<line x1="454.8" x2="454.8" y1="725.0" y2="730.4" stroke="#0000FF" stroke-width="1.6"/>
<text transform="translate(73.3 639.4) rotate(-90)" class="b" style="font-size:16px">L<tspan dy="5" style="font-size:9.5px">P</tspan><tspan dy="-5">[dB(A)]</tspan></text>
<rect x="683" y="44" width="336.2" height="500.4" fill="#E9E9E9"/>
<rect x="683" y="44" width="94.2" height="70" fill="#9DC3E6"/>
<rect x="780" y="45.2" width="121.9" height="45.6" fill="#9DC3E6"/>
<rect x="904.8" y="45.2" width="114.4" height="45.6" fill="#9DC3E6"/>
<rect x="780" y="93.3" width="121.9" height="20.7" fill="#9DC3E6"/>
<rect x="904.8" y="93.3" width="114.4" height="20.7" fill="#9DC3E6"/>
<rect x="683.0" y="116.6" width="94.2" height="32.8" fill="#fff"/>
<rect x="780.0" y="116.6" width="121.9" height="32.8" fill="#fff"/>
<rect x="904.8" y="116.6" width="114.4" height="32.8" fill="#fff"/>
<text x="730.4" y="138.6" class="c m">1</text>
<text x="840.8" y="138.6" class="c m">2184</text>
<text x="961.3" y="138.6" class="c m">858</text>
<rect x="683.0" y="152.3" width="94.2" height="32.8" fill="#fff"/>
<rect x="780.0" y="152.3" width="121.9" height="32.8" fill="#fff"/>
<rect x="904.8" y="152.3" width="114.4" height="32.8" fill="#fff"/>
<text x="730.4" y="174.3" class="c m">2</text>
<text x="840.8" y="174.3" class="c m">2086</text>
<text x="961.3" y="174.3" class="c m">885</text>
<rect x="683.0" y="187.9" width="94.2" height="32.8" fill="#fff"/>
<rect x="780.0" y="187.9" width="121.9" height="32.8" fill="#fff"/>
<rect x="904.8" y="187.9" width="114.4" height="32.8" fill="#fff"/>
<text x="730.4" y="209.9" class="c m">3</text>
<text x="840.8" y="209.9" class="c m">2003</text>
<text x="961.3" y="209.9" class="c m">901</text>
<rect x="683.0" y="223.6" width="94.2" height="32.8" fill="#D9D9D9"/>
<rect x="780.0" y="223.6" width="121.9" height="32.8" fill="#D9D9D9"/>
<rect x="904.8" y="223.6" width="114.4" height="32.8" fill="#D9D9D9"/>
<text x="730.4" y="245.6" class="c m">4</text>
<text x="840.8" y="245.6" class="c m">1743</text>
<text x="961.3" y="245.6" class="c m">457</text>
<rect x="683.0" y="259.2" width="94.2" height="32.8" fill="#D9D9D9"/>
<rect x="780.0" y="259.2" width="121.9" height="32.8" fill="#D9D9D9"/>
<rect x="904.8" y="259.2" width="114.4" height="32.8" fill="#D9D9D9"/>
<text x="730.4" y="281.2" class="c m">5</text>
<text x="840.8" y="281.2" class="c m">1747</text>
<text x="961.3" y="281.2" class="c m">543</text>
<rect x="683.0" y="294.9" width="94.2" height="32.8" fill="#D9D9D9"/>
<rect x="780.0" y="294.9" width="121.9" height="32.8" fill="#D9D9D9"/>
<rect x="904.8" y="294.9" width="114.4" height="32.8" fill="#D9D9D9"/>
<text x="730.4" y="316.9" class="c m">6</text>
<text x="840.8" y="316.9" class="c m">1746</text>
<text x="961.3" y="316.9" class="c m">604</text>
<rect x="683.0" y="330.6" width="94.2" height="32.8" fill="#fff"/>
<rect x="780.0" y="330.6" width="121.9" height="32.8" fill="#fff"/>
<rect x="904.8" y="330.6" width="114.4" height="32.8" fill="#fff"/>
<text x="730.4" y="352.6" class="c m">7</text>
<text x="840.8" y="352.6" class="c m">1313</text>
<text x="961.3" y="352.6" class="c m">210</text>
<rect x="683.0" y="366.2" width="94.2" height="32.8" fill="#fff"/>
<rect x="780.0" y="366.2" width="121.9" height="32.8" fill="#fff"/>
<rect x="904.8" y="366.2" width="114.4" height="32.8" fill="#fff"/>
<text x="730.4" y="388.2" class="c m">8</text>
<text x="840.8" y="388.2" class="c m">1314</text>
<text x="961.3" y="388.2" class="c m">253</text>
<rect x="683.0" y="401.9" width="94.2" height="32.8" fill="#fff"/>
<rect x="780.0" y="401.9" width="121.9" height="32.8" fill="#fff"/>
<rect x="904.8" y="401.9" width="114.4" height="32.8" fill="#fff"/>
<text x="730.4" y="423.9" class="c m">9</text>
<text x="840.8" y="423.9" class="c m">1312</text>
<text x="961.3" y="423.9" class="c m">269</text>
<rect x="683.0" y="437.5" width="94.2" height="32.8" fill="#D9D9D9"/>
<rect x="780.0" y="437.5" width="121.9" height="32.8" fill="#D9D9D9"/>
<rect x="904.8" y="437.5" width="114.4" height="32.8" fill="#D9D9D9"/>
<text x="730.4" y="459.5" class="c m">10</text>
<text x="840.8" y="459.5" class="c m">875</text>
<text x="961.3" y="459.5" class="c m">77</text>
<rect x="683.0" y="473.2" width="94.2" height="32.8" fill="#D9D9D9"/>
<rect x="780.0" y="473.2" width="121.9" height="32.8" fill="#D9D9D9"/>
<rect x="904.8" y="473.2" width="114.4" height="32.8" fill="#D9D9D9"/>
<text x="730.4" y="495.2" class="c m">11</text>
<text x="840.8" y="495.2" class="c m">875</text>
<text x="961.3" y="495.2" class="c m">87</text>
<rect x="683.0" y="508.9" width="94.2" height="32.8" fill="#D9D9D9"/>
<rect x="780.0" y="508.9" width="121.9" height="32.8" fill="#D9D9D9"/>
<rect x="904.8" y="508.9" width="114.4" height="32.8" fill="#D9D9D9"/>
<text x="730.4" y="530.9" class="c m">12</text>
<text x="840.8" y="530.9" class="c m">875</text>
<text x="961.3" y="530.9" class="c m">95</text>
<text x="731.8" y="75.2" class="c m" style="font-size:16px;letter-spacing:0">测试节点</text>
<text x="732.2" y="96.8" class="c m h" word-spacing="3">Test Point</text>
<text x="841.2" y="63.6" class="c m" style="font-size:16px;letter-spacing:0" word-spacing="2">转 速</text>
<text x="841.2" y="85.4" class="c m h">Speed</text>
<text x="962" y="63.6" class="c m" style="font-size:16px;letter-spacing:0">输入功率</text>
<text x="960.7" y="85.4" class="c m h" word-spacing="2">Input Power</text>
<text x="840.6" y="109.2" class="c m h">rpm</text>
<text x="961.1" y="109.2" class="c m h">W</text>
<text x="685" y="579.9" class="c" style="font-size:17px;letter-spacing:0.22px" word-spacing="6">Erp2015 Data:</text>
<text x="685" y="608" class="c" style="font-size:15.4px;letter-spacing:0.38px">Efficiency η<tspan dy="4.4" style="font-size:11.8px;letter-spacing:0.1px">statA</tspan><tspan dy="-4.4">=53.8%</tspan></text>
<text x="685" y="635" class="c" style="font-size:15.4px;letter-spacing:0.25px">Efficiency grade <tspan dx="3.4" style="letter-spacing:0">N</tspan><tspan style="font-size:11px;letter-spacing:0">actual</tspan><tspan style="letter-spacing:0">=64.7, N</tspan><tspan style="font-size:11px;letter-spacing:0">target</tspan><tspan style="letter-spacing:0">=62</tspan></text>
<text x="684" y="664" class="c" style="font-size:15px;letter-spacing:0.8px" font-style="italic">Test report No. : L-20210302 -005-063</text>
</svg>
</body></html>
